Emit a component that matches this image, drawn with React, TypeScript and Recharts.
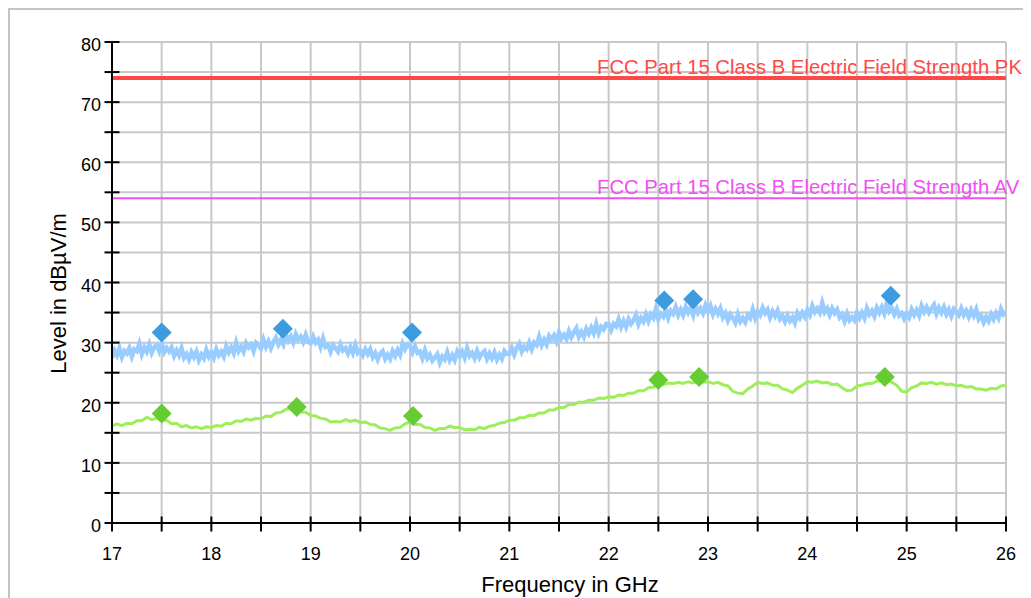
import React from 'react';
import {
  ComposedChart, Line, Scatter, XAxis, YAxis, CartesianGrid, ReferenceLine,
} from 'recharts';

// Peak trace: 17.000 .. 26.000 GHz in 0.025 GHz steps (dBµV/m), light blue
const peakStartGHz = 17;
const peakStepGHz = 0.025;
const peakTrace = [
  // 17 GHz
  27.5, 28.7, 27.9, 29.1, 27.6, 28.6, 28.2, 29.1, 27.7, 28.9, 28.6, 29.8, 28.1, 29.2, 28.5, 29.7, 28.3, 29.2, 29.6, 28.6,
  29.9, 28.4, 29.1, 28.5, 29.2, 27.8, 28.7, 27.9, 29.1, 27.5, 28.1, 27.2, 28.4, 27.6, 28.5, 27.1, 28.0, 27.4, 28.8, 27.7,
  // 18 GHz
  28.4, 27.5, 28.9, 27.9, 28.5, 27.7, 29.4, 28.4, 29.2, 28.3, 30.0, 28.6, 29.3, 28.5, 29.9, 29.2, 29.7, 28.6, 30.0, 29.6,
  29.0, 30.5, 29.3, 30.2, 29.1, 30.1, 30.8, 29.7, 30.5, 29.7, 31.4, 30.3, 31.0, 30.0, 31.4, 30.5, 31.0, 30.1, 31.3, 30.1,
  // 19 GHz
  29.9, 31.0, 30.0, 30.5, 29.3, 30.7, 29.3, 29.6, 28.5, 29.6, 29.1, 28.5, 29.7, 28.7, 29.1, 28.2, 29.3, 28.3, 29.6, 28.3,
  28.7, 27.9, 28.9, 28.1, 28.9, 27.6, 28.3, 27.2, 28.2, 28.6, 27.3, 28.0, 27.3, 28.6, 27.8, 28.8, 28.0, 29.8, 28.9, 29.7,
  // 20 GHz
  29.5, 28.4, 29.4, 28.3, 28.5, 27.4, 28.7, 27.4, 28.0, 27.0, 27.5, 28.1, 26.7, 27.7, 27.2, 28.4, 27.1, 27.9, 27.1, 28.5,
  27.7, 28.5, 27.5, 29.1, 27.8, 28.3, 27.4, 28.6, 27.5, 28.2, 28.6, 27.3, 28.2, 27.4, 28.4, 27.2, 28.0, 27.3, 28.6, 28.1,
  // 21 GHz
  28.1, 29.1, 28.0, 29.1, 29.8, 28.5, 29.3, 28.9, 30.0, 28.9, 30.0, 29.6, 31.0, 29.6, 30.5, 29.7, 31.1, 30.5, 31.2, 30.2,
  31.7, 30.7, 31.3, 30.6, 31.9, 30.9, 31.7, 32.4, 31.0, 31.8, 31.0, 32.3, 31.5, 32.5, 31.6, 33.1, 31.6, 32.6, 32.2, 33.1,
  // 22 GHz
  33.1, 32.1, 33.1, 32.7, 33.9, 32.6, 33.6, 32.6, 33.9, 33.1, 33.7, 34.6, 33.1, 34.1, 33.5, 34.7, 33.6, 34.7, 34.1, 35.6,
  33.9, 34.8, 34.3, 35.5, 34.1, 35.3, 34.8, 35.9, 34.6, 35.5, 34.6, 35.9, 35.0, 35.8, 34.6, 36.3, 35.0, 35.7, 34.9, 36.2,
  // 23 GHz
  35.2, 36.1, 34.7, 35.6, 34.8, 35.7, 34.2, 34.9, 33.7, 34.7, 34.1, 33.3, 34.7, 33.5, 34.1, 33.4, 34.6, 34.1, 35.5, 34.1,
  35.2, 34.6, 35.8, 34.9, 35.5, 34.2, 35.2, 34.4, 35.3, 33.9, 34.4, 33.5, 34.5, 33.6, 34.2, 33.3, 34.9, 34.1, 35.0, 34.3,
  // 24 GHz
  35.4, 34.6, 36.1, 35.1, 35.7, 35.0, 36.6, 35.1, 35.7, 34.6, 35.7, 34.9, 35.5, 34.2, 34.7, 33.6, 34.8, 33.7, 34.2, 33.7,
  35.0, 34.1, 35.0, 34.1, 35.7, 34.7, 35.3, 34.4, 35.8, 35.0, 35.9, 34.9, 36.6, 35.2, 35.7, 34.7, 35.6, 34.5, 34.9, 34.0,
  // 25 GHz .. 26 GHz
  34.8, 34.2, 35.5, 34.6, 35.4, 34.5, 36.1, 35.1, 35.9, 35.0, 35.7, 36.3, 34.8, 35.8, 35.0, 35.9, 34.7, 35.5, 34.4, 35.6,
  35.1, 34.6, 35.7, 34.6, 35.3, 34.3, 35.4, 34.5, 35.5, 33.9, 34.5, 33.4, 34.3, 33.6, 34.7, 33.9, 34.9, 34.1, 35.6, 34.7,
  35.1,
];

// Average trace: 17.00 .. 26.00 GHz in 0.05 GHz steps (dBµV/m), light green
const avgStartGHz = 17;
const avgStepGHz = 0.05;
const avgTrace = [
  16.1, 16.5, 16.2, 16.6, 16.5, 17.0, 17.0, 17.6, 17.2, 17.4, 17.1, 17.1, 16.5, 16.6, 16.0, 16.2, 15.8, 16.0, 15.7, 16.0,
  15.9, 16.2, 16.1, 16.6, 16.5, 17.0, 16.9, 17.3, 17.1, 17.4, 17.3, 17.8, 17.7, 18.3, 18.4, 18.9, 19.0, 19.1, 18.5, 18.4,
  17.9, 17.8, 17.4, 17.3, 16.8, 16.9, 16.8, 17.2, 16.9, 17.1, 16.7, 16.8, 16.4, 16.3, 15.8, 15.7, 15.4, 15.8, 15.9, 16.5,
  16.8, 16.4, 16.4, 15.9, 15.8, 15.4, 15.7, 15.7, 16.1, 15.9, 15.9, 15.5, 15.6, 15.5, 15.9, 15.7, 16.1, 16.2, 16.6, 16.7,
  17.1, 17.1, 17.5, 17.5, 17.9, 17.9, 18.3, 18.3, 18.8, 18.8, 19.2, 19.2, 19.7, 19.7, 20.1, 20.1, 20.4, 20.4, 20.8, 20.7,
  21.0, 20.9, 21.3, 21.2, 21.6, 21.6, 22.0, 22.0, 22.5, 22.6, 23.1, 23.0, 23.3, 23.2, 23.4, 23.2, 23.5, 23.3, 23.6, 23.4,
  23.5, 23.2, 23.4, 23.0, 22.8, 21.9, 21.6, 21.5, 22.3, 22.8, 23.4, 23.2, 23.3, 22.9, 22.9, 22.3, 22.1, 21.7, 22.4, 22.9,
  23.5, 23.4, 23.6, 23.3, 23.4, 23.0, 23.1, 22.5, 22.0, 22.1, 22.8, 22.9, 23.2, 23.2, 23.6, 23.6, 23.9, 23.4, 22.9, 21.9,
  21.8, 22.5, 22.8, 23.3, 23.2, 23.4, 23.1, 23.3, 23.0, 23.1, 22.8, 22.9, 22.6, 22.7, 22.3, 22.3, 22.1, 22.4, 22.3, 22.8, 22.9,
];

// Final peak measurements (diamonds)
const peakMarkFreq = [17.5, 18.72, 20.02, 22.56, 22.85, 24.84];
const peakMarkLevel = [31.7, 32.3, 31.7, 37.0, 37.2, 37.8];

// Final average measurements (diamonds)
const avgMarkFreq = [17.5, 18.86, 20.03, 22.5, 22.91, 24.78];
const avgMarkLevel = [18.2, 19.3, 17.8, 23.8, 24.3, 24.3];

// Limit lines
const limitPK = 74;
const limitAV = 54;
const limitPKLabel = 'FCC Part 15 Class B Electric Field Strength PK';
const limitAVLabel = 'FCC Part 15 Class B Electric Field Strength AV';

// Ticks
const xTicks = [17, 17.5, 18, 18.5, 19, 19.5, 20, 20.5, 21, 21.5, 22, 22.5, 23, 23.5, 24, 24.5, 25, 25.5, 26];
const yTicks = [0, 5, 10, 15, 20, 25, 30, 35, 40, 45, 50, 55, 60, 65, 70, 75, 80];

const xTitle = 'Frequency in GHz';
const yTitle = 'Level in dBµV/m';

const peakData = peakTrace.map((v, i) => ({
  f: Math.round((peakStartGHz + i * peakStepGHz) * 1000) / 1000,
  v,
}));
const avgData = avgTrace.map((v, i) => ({
  f: Math.round((avgStartGHz + i * avgStepGHz) * 1000) / 1000,
  v,
}));
const peakMarks = peakMarkFreq.map((f, i) => ({ f, v: peakMarkLevel[i] }));
const avgMarks = avgMarkFreq.map((f, i) => ({ f, v: avgMarkLevel[i] }));

const FONT = '"Liberation Sans", Arial, Helvetica, sans-serif';

const XTick = (props: any) => {
  const { x, y, payload } = props;
  const v = payload.value;
  const major = Math.abs(v - Math.round(v)) < 1e-6;
  return (
    <g>
      <line x1={x} x2={x} y1={y - 6.5} y2={y + 8.5} stroke="#000" strokeWidth={2} />
      {major && (
        <text x={x} y={y + 37} textAnchor="middle" fontSize={18} fontFamily={FONT} fill="#000">
          {v}
        </text>
      )}
    </g>
  );
};

const YTick = (props: any) => {
  const { x, y, payload } = props;
  const v = payload.value;
  const major = v % 10 === 0;
  return (
    <g>
      <line x1={x - 7.5} x2={x + 7.5} y1={y} y2={y} stroke="#000" strokeWidth={2} />
      {major && (
        <text x={x - 11} y={y + 9} textAnchor="end" fontSize={18} fontFamily={FONT} fill="#000">
          {v}
        </text>
      )}
    </g>
  );
};

const LimitLabel = (props: any) => {
  const vb = props.viewBox || { x: 0, y: 0 };
  return (
    <text x={vb.x + 485} y={vb.y - 4} fill={props.color} fontSize={20.3} fontFamily={FONT}>
      {props.text}
    </text>
  );
};

const Diamond = (color: string) => (props: any) => {
  const { cx, cy } = props;
  const r = 10;
  return (
    <polygon
      points={`${cx},${cy - r} ${cx + r},${cy} ${cx},${cy + r} ${cx - r},${cy}`}
      fill={color}
    />
  );
};

const XTitle = (props: any) => {
  const vb = props.viewBox || { x: 0, y: 0, width: 0, height: 0 };
  return (
    <text x={vb.x + vb.width / 2 + 11} y={vb.y + 69} textAnchor="middle" fontSize={22} fontFamily={FONT} fill="#000">
      {xTitle}
    </text>
  );
};

const YTitle = (props: any) => {
  const vb = props.viewBox || { x: 0, y: 0, width: 0, height: 0 };
  const cx = vb.x + vb.width - 46;
  const cy = vb.y + vb.height / 2 + 11;
  return (
    <text
      x={cx}
      y={cy}
      transform={`rotate(-90 ${cx} ${cy})`}
      textAnchor="middle"
      fontSize={22}
      fontFamily={FONT}
      fill="#000"
    >
      {yTitle}
    </text>
  );
};

export default function App() {
  return (
    <div
      style={{
        width: 1023,
        height: 590,
        boxSizing: 'border-box',
        borderTop: '2px solid #c4c4c4',
        borderLeft: '2px solid #c4c4c4',
        overflow: 'hidden',
        background: '#fff',
        fontFamily: FONT,
      }}
    >
      <style>{'body{overflow:hidden;background:#fff;}'}</style>
      <ComposedChart
        width={1021}
        height={588}
        margin={{ top: 32, right: 25, bottom: 0, left: 42 }}
        style={{ overflow: 'visible' }}
      >
        <CartesianGrid stroke="#c8c8c8" strokeWidth={2} />
        <XAxis
          type="number"
          dataKey="f"
          domain={[17, 26]}
          ticks={xTicks}
          interval={0}
          allowDataOverflow
          height={75}
          tickSize={0}
          tickMargin={0}
          tickLine={false}
          axisLine={{ stroke: '#000', strokeWidth: 2 }}
          tick={<XTick />}
          label={<XTitle />}
        />
        <YAxis
          type="number"
          dataKey="v"
          domain={[0, 80]}
          ticks={yTicks}
          interval={0}
          allowDataOverflow
          width={60}
          tickSize={0}
          tickMargin={0}
          tickLine={false}
          axisLine={{ stroke: '#000', strokeWidth: 2 }}
          tick={<YTick />}
          label={<YTitle />}
        />
        <ReferenceLine
          y={limitPK}
          stroke="#ff4848"
          strokeWidth={4}
          label={<LimitLabel text={limitPKLabel} color="#ff4848" />}
        />
        <ReferenceLine
          y={limitAV}
          stroke="#f050f0"
          strokeWidth={2}
          label={<LimitLabel text={limitAVLabel} color="#f050f0" />}
        />
        <Line
          data={peakData}
          dataKey="v"
          stroke="#99ccff"
          strokeWidth={4.5}
          strokeLinejoin="miter"
          dot={false}
          activeDot={false}
          isAnimationActive={false}
          type="linear"
        />
        <Line
          data={avgData}
          dataKey="v"
          stroke="#9cee5a"
          strokeWidth={3}
          dot={false}
          activeDot={false}
          isAnimationActive={false}
          type="linear"
        />
        <Scatter data={peakMarks} dataKey="v" shape={Diamond('#3d9be0')} isAnimationActive={false} />
        <Scatter data={avgMarks} dataKey="v" shape={Diamond('#66cc33')} isAnimationActive={false} />
      </ComposedChart>
    </div>
  );
}
